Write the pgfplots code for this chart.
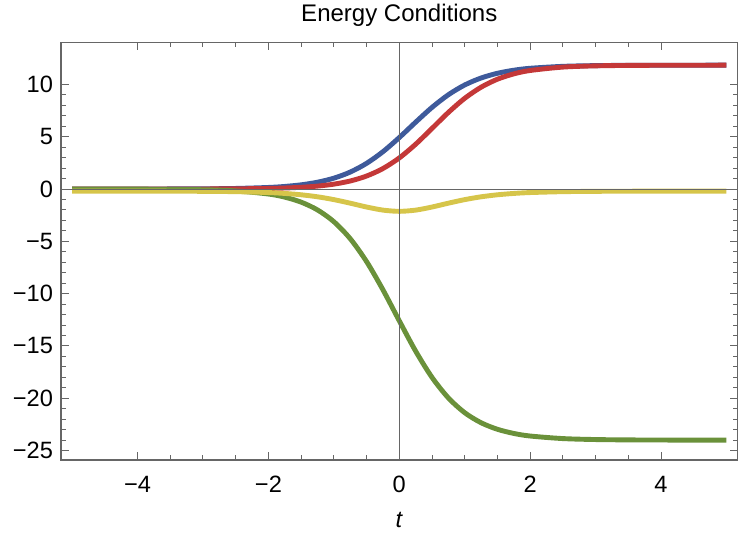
\documentclass[border=0pt]{standalone}
\usepackage{pgfplots}
\pgfplotsset{compat=1.18}
\usepackage{fontspec}
\setmainfont{Liberation Sans}

\definecolor{ecblue}{RGB}{62,90,155}
\definecolor{ecred}{RGB}{196,56,56}
\definecolor{ecgreen}{RGB}{106,145,58}
\definecolor{ecyellow}{RGB}{214,197,74}
\definecolor{frame}{RGB}{102,102,102}

\begin{document}
\begin{tikzpicture}
\begin{axis}[%
    scale only axis,
    width=338.3pt, height=208.7pt,
    xmin=-5.17, xmax=5.17,
    ymin=-25.9, ymax=14.0,
    xtick={-4,-2,...,4},
    xticklabels={−4,−2,0,2,4},
    ytick={-25,-20,...,10},
    yticklabels={−25,−20,−15,−10,−5,0,5,10},
    minor x tick num=3,
    minor y tick num=4,
    tick align=inside,
    major tick length=3.8pt,
    minor tick length=2.3pt,
    axis line style={frame, line width=0.6pt},
    every tick/.style={frame, line width=0.5pt},
    tick label style={font=\fontsize{11.8}{14}\selectfont, black},
    xticklabel style={yshift=-4.5pt},
    yticklabel style={xshift=-0.5pt},
    extra x ticks={0}, extra x tick labels={},
    extra y ticks={0}, extra y tick labels={},
    extra tick style={grid=major, major grid style={frame, line width=0.5pt}},
    axis on top,
    title={Energy Conditions},
    title style={font=\fontsize{12}{14}\selectfont, yshift=-1.5pt},
    xlabel={\textit{t}},
    xlabel style={font=\fontsize{11.8}{14}\selectfont, yshift=-3pt},
    every axis plot/.append style={line width=2.45pt, smooth},
    clip=true,
        ]%
% blue
\addplot[ecblue] coordinates {
    (-5,0.0004) (-4,0.0028) (-3,0.021) (-2.5,0.057) (-2,0.152) (-1.75,0.249)
    (-1.5,0.405) (-1.25,0.654) (-1,1.040) (-0.75,1.623) (-0.5,2.457) (-0.25,3.570)
    (0,4.923) (0.25,6.392) (0.5,7.806) (0.75,9.014) (1,9.949) (1.25,10.616)
    (1.5,11.066) (1.75,11.358) (2,11.544) (2.5,11.729) (3,11.799) (3.5,11.825)
    (4,11.834) (5,11.840)
};
% red
\addplot[ecred] coordinates {
    (-5,0.0001) (-4,0.0009) (-3,0.0073) (-2.5,0.021) (-2,0.059) (-1.75,0.100)
    (-1.5,0.168) (-1.25,0.281) (-1,0.467) (-0.75,0.769) (-0.5,1.244) (-0.25,1.961)
    (0,2.975) (0.25,4.285) (0.5,5.796) (0.75,7.322) (1,8.675) (1.25,9.737)
    (1.5,10.500) (1.75,11.008) (2,11.333) (2.5,11.658) (3,11.776) (3.5,11.817)
    (4,11.832) (5,11.839)
};
% green
\addplot[ecgreen] coordinates {
    (-5,-0.0012) (-4,-0.0089) (-3,-0.066) (-2.5,-0.177) (-2,-0.476) (-1.75,-0.775)
    (-1.5,-1.252) (-1.25,-1.997) (-1,-3.122) (-0.75,-4.747) (-0.5,-6.937) (-0.25,-9.631)
    (0,-12.600) (0.25,-15.496) (0.5,-18.006) (0.75,-19.968) (1,-21.382) (1.25,-22.340)
    (1.5,-22.966) (1.75,-23.362) (2,-23.609) (2.5,-23.854) (3,-23.946) (3.5,-23.980)
    (4,-23.993) (5,-23.999)
};
% yellow
\addplot[ecyellow] coordinates {
    (-5,-0.200) (-4,-0.203) (-3.5,-0.207) (-3,-0.219) (-2.5,-0.251) (-2,-0.336)
    (-1.75,-0.420) (-1.5,-0.549) (-1.25,-0.741) (-1,-1.011) (-0.75,-1.351) (-0.5,-1.718)
    (-0.25,-2.014) (0,-2.130) (0.25,-2.014) (0.5,-1.718) (0.75,-1.351) (1,-1.011)
    (1.25,-0.741) (1.5,-0.549) (1.75,-0.420) (2,-0.336) (2.5,-0.251) (3,-0.219)
    (3.5,-0.207) (4,-0.203) (5,-0.200)
};
\coordinate (bl) at (rel axis cs:0,0);
\coordinate (tr) at (rel axis cs:1,1);
\end{axis}
\pgfresetboundingbox
\path[use as bounding box] ([xshift=-30.5pt,yshift=-39pt]bl) rectangle ([xshift=6.2pt,yshift=21.3pt]tr);
\end{tikzpicture}
\end{document}
